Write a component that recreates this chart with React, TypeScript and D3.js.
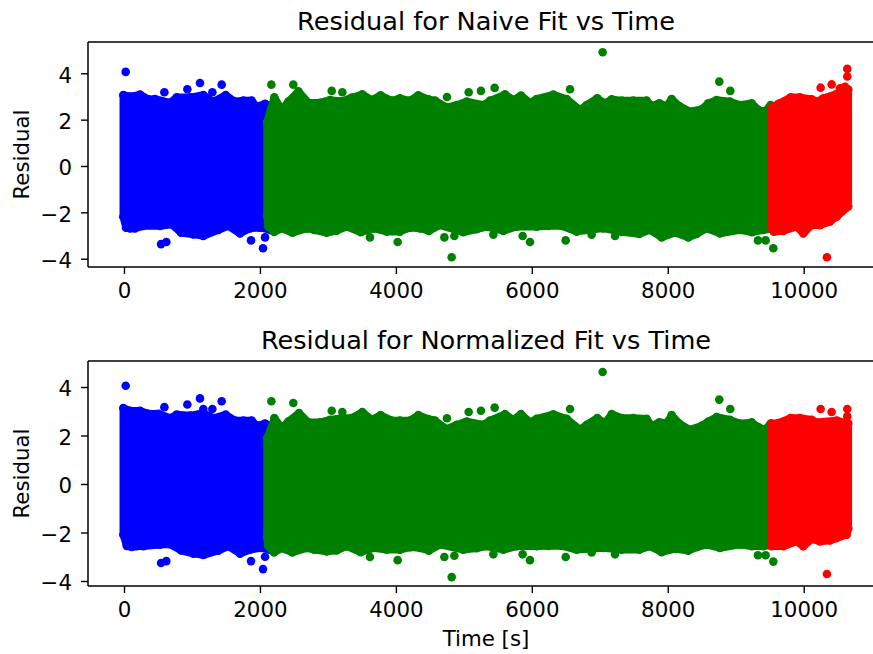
import React, { useEffect, useRef } from "react";
import * as d3 from "d3";

type P = [number, number];

// ---------- top panel (naive fit): edge of the dense cloud, then isolated points
const naiveBlueUpper: P[] = [[-10,3.06],[88,3.0],[236,3.08],[358,2.88],[456,2.89],[677,2.73],[775,2.96],[971,2.96],[1167,3.06],[1315,2.78],[1496,3.06],[1633,2.78],[1756,2.82],[1878,2.82],[1952,2.56],[2075,2.68],[2150,2.6]];
const naiveBlueLower: P[] = [[-10,-2.19],[30,-2.66],[88,-2.69],[162,-2.69],[285,-2.59],[530,-2.59],[702,-2.52],[839,-2.88],[1020,-2.95],[1167,-3.02],[1388,-2.76],[1535,-2.59],[1707,-2.91],[1854,-2.69],[2001,-2.66],[2150,-2.76]];
const naiveBlueOutliers: P[] = [[25,4.06],[594,3.18],[932,3.31],[1118,3.58],[1300,3.18],[1437,3.51],[545,-3.37],[623,-3.28],[1869,-3.21],[2075,-3.08],[2045,-3.55]];

const naiveGreenUpper: P[] = [[2105,1.9],[2158,2.42],[2212,2.96],[2320,2.42],[2418,2.78],[2565,3.22],[2712,2.73],[2884,2.73],[3032,2.85],[3203,2.79],[3350,2.95],[3506,3.09],[3644,2.85],[3776,3.05],[3938,2.82],[4060,2.92],[4208,2.82],[4330,3.05],[4477,2.88],[4575,2.82],[4747,2.53],[4894,2.63],[5041,2.78],[5287,2.63],[5385,2.82],[5605,3.09],[5728,2.85],[5841,3.04],[5973,2.73],[6071,2.89],[6316,3.08],[6513,2.89],[6709,2.42],[6807,2.63],[6964,2.92],[7076,2.71],[7175,2.88],[7322,2.82],[7493,2.82],[7689,2.82],[7763,2.59],[7876,2.71],[7984,2.59],[8057,2.89],[8170,2.59],[8327,2.35],[8498,2.45],[8597,2.71],[8719,2.85],[8915,2.78],[9062,2.63],[9234,2.71],[9332,2.42],[9430,2.35],[9514,2.63],[9600,2.5]];
const naiveGreenLower: P[] = [[2105,-2.15],[2124,-2.62],[2207,-2.85],[2320,-2.7],[2477,-2.88],[2688,-2.69],[2800,-2.76],[2982,-2.88],[3129,-2.79],[3276,-2.62],[3482,-2.86],[3668,-2.69],[3864,-2.83],[4060,-2.83],[4208,-2.66],[4355,-2.69],[4487,-2.8],[4649,-2.55],[4992,-2.86],[5188,-2.73],[5336,-2.62],[5581,-2.8],[5777,-2.62],[6071,-2.62],[6243,-2.59],[6439,-2.59],[6660,-2.83],[7052,-2.69],[7322,-2.85],[7581,-2.93],[7738,-2.76],[7910,-3.08],[8106,-2.88],[8302,-3.08],[8425,-2.93],[8572,-2.69],[8768,-2.91],[9062,-2.76],[9239,-2.86],[9406,-2.76],[9600,-2.7]];
const naiveGreenOutliers: P[] = [[2168,3.51],[2491,3.51],[3056,3.24],[3212,3.18],[4752,2.98],[5071,3.18],[5252,3.24],[5453,3.37],[6562,3.31],[7042,4.91],[8758,3.64],[8920,3.24],[3619,-3.08],[4026,-3.28],[4821,-3.94],[4713,-3.08],[4860,-3.02],[5434,-2.96],[5865,-3.02],[5973,-3.28],[6498,-3.21],[6880,-2.96],[7224,-3.02],[9327,-3.21],[9440,-3.21],[9553,-3.55]];

const naiveRedUpper: P[] = [[9525,2.5],[9626,2.68],[9808,2.96],[9945,2.96],[10117,2.88],[10190,2.78],[10288,2.92],[10485,3.11],[10607,3.42],[10656,3.3]];
const naiveRedLower: P[] = [[9525,-2.65],[9560,-2.83],[9700,-2.8],[9896,-2.62],[9994,-2.91],[10117,-2.55],[10239,-2.55],[10386,-2.4],[10485,-2.19],[10656,-1.75]];
const naiveRedOutliers: P[] = [[10249,3.38],[10411,3.52],[10641,4.19],[10641,3.86],[10534,3.35],[10342,-3.94]];

// ---------- bottom panel (normalized fit)
const normBlueUpper: P[] = [[-10,3.13],[88,3.02],[236,3.02],[358,2.9],[505,2.9],[677,2.72],[775,2.86],[971,2.82],[1167,2.93],[1315,2.72],[1496,2.86],[1633,2.62],[1756,2.62],[1878,2.62],[1952,2.4],[2075,2.49],[2150,2.4]];
const normBlueLower: P[] = [[-10,-2.09],[40,-2.55],[113,-2.6],[187,-2.57],[285,-2.57],[530,-2.5],[677,-2.48],[839,-2.74],[1020,-2.87],[1167,-2.93],[1388,-2.75],[1535,-2.57],[1707,-2.87],[1854,-2.71],[2001,-2.64],[2150,-2.71]];
const normBlueOutliers: P[] = [[25,4.05],[594,3.17],[932,3.28],[1118,3.53],[1300,3.09],[1437,3.41],[1167,3.09],[545,-3.26],[623,-3.18],[1869,-3.18],[2075,-3.0],[2045,-3.51]];

const normGreenUpper: P[] = [[2105,1.9],[2158,2.24],[2212,2.72],[2320,2.31],[2418,2.58],[2575,2.93],[2712,2.54],[2884,2.54],[3032,2.65],[3203,2.72],[3350,2.72],[3506,2.97],[3644,2.65],[3776,2.84],[3938,2.62],[4060,2.62],[4208,2.62],[4330,2.84],[4477,2.68],[4575,2.62],[4747,2.27],[4894,2.44],[5041,2.58],[5287,2.44],[5385,2.62],[5605,2.88],[5728,2.65],[5841,2.88],[5973,2.54],[6071,2.69],[6316,2.87],[6513,2.69],[6709,2.24],[6807,2.44],[6964,2.72],[7076,2.51],[7175,2.88],[7322,2.72],[7493,2.72],[7689,2.69],[7763,2.4],[7876,2.54],[7984,2.51],[8057,2.84],[8170,2.49],[8327,2.24],[8498,2.4],[8597,2.58],[8719,2.76],[8915,2.65],[9062,2.49],[9234,2.54],[9332,2.35],[9430,2.24],[9514,2.49],[9600,2.4]];
const normGreenLower: P[] = [[2105,-2.2],[2124,-2.57],[2207,-2.82],[2320,-2.65],[2477,-2.82],[2688,-2.64],[2800,-2.71],[2982,-2.78],[3129,-2.74],[3276,-2.57],[3482,-2.81],[3668,-2.64],[3864,-2.71],[4060,-2.71],[4208,-2.61],[4355,-2.64],[4487,-2.75],[4649,-2.5],[4992,-2.71],[5188,-2.65],[5336,-2.57],[5581,-2.71],[5777,-2.57],[6071,-2.57],[6243,-2.55],[6439,-2.55],[6660,-2.71],[7052,-2.64],[7322,-2.71],[7581,-2.71],[7738,-2.57],[7910,-2.81],[8106,-2.67],[8302,-2.75],[8425,-2.61],[8572,-2.5],[8768,-2.64],[9062,-2.5],[9239,-2.57],[9406,-2.57],[9600,-2.5]];
const normGreenOutliers: P[] = [[2168,3.41],[2491,3.34],[3056,3.02],[3212,2.97],[4752,2.71],[5071,2.97],[5252,3.02],[5453,3.15],[6562,3.09],[7042,4.62],[8758,3.48],[8920,3.09],[3619,-3.01],[4026,-3.14],[4821,-3.84],[4713,-3.01],[4860,-2.96],[5434,-2.9],[5865,-2.9],[5973,-3.14],[6498,-3.01],[6880,-2.82],[7224,-2.9],[9327,-2.94],[9440,-2.94],[9553,-3.2]];

const normRedUpper: P[] = [[9525,2.35],[9528,2.49],[9626,2.51],[9808,2.72],[9945,2.72],[10117,2.65],[10190,2.54],[10485,2.62],[10656,2.49]];
const normRedLower: P[] = [[9525,-2.5],[9528,-2.57],[9700,-2.57],[9896,-2.37],[9994,-2.57],[10117,-2.27],[10239,-2.37],[10386,-2.33],[10485,-2.23],[10632,-2.09],[10656,-1.82]];
const normRedOutliers: P[] = [[10249,3.09],[10411,2.97],[10641,3.09],[10641,2.79],[10342,-3.71]];

const xTicks = [0, 2000, 4000, 6000, 8000, 10000];
const yTicksTop = [-4, -2, 0, 2, 4];
const yTicksBottom = [-4, -2, 0, 2, 4];
const colors = ["#0000ff", "#008000", "#ff0000"];

const WIDTH = 873, HEIGHT = 654;
const AX_LEFT = 88, AX_RIGHT = 884;
const x = d3.scaleLinear().domain([0, 10000]).range([124, 803.7]);
const FONT = "'DejaVu Sans', sans-serif";
const TICK_FS = 21.33, TITLE_FS = 25.6;
const BAND_R = 3.8, DOT_R = 4.3;

type Seg = { upper: P[]; lower: P[]; outliers: P[]; color: string };

function Panel({ top, bottom, y, title, segs, yTicks, xLabel }: {
  top: number; bottom: number; y: d3.ScaleLinear<number, number>; title: string; segs: Seg[]; yTicks: number[]; xLabel?: string;
}) {
  const xRef = useRef<SVGGElement>(null);
  const yRef = useRef<SVGGElement>(null);
  useEffect(() => {
    const ax = d3.axisBottom(x).tickValues(xTicks).tickFormat(d3.format("d") as any).tickSizeOuter(0).tickSize(7).tickPadding(9);
    const ay = d3.axisLeft(y).tickValues(yTicks).tickFormat(d3.format("d") as any).tickSizeOuter(0).tickSize(7).tickPadding(9);
    for (const [ref, axis] of [[xRef, ax], [yRef, ay]] as any) {
      const g = d3.select(ref.current);
      g.call(axis);
      g.select(".domain").remove();
      g.selectAll("line").attr("stroke", "#000").attr("stroke-width", 1.4);
      g.selectAll("text").attr("fill", "#000").attr("font-family", FONT).attr("font-size", TICK_FS);
    }
    d3.select(yRef.current).selectAll("text").attr("dy", "0.42em");
  }, []);
  const band = (s: Seg) => {
    const path = d3.path();
    const line = d3.line<P>().x((d) => x(d[0])).y((d) => y(d[1])).context(path as any);
    line([...s.upper, ...[...s.lower].reverse()]);
    path.closePath();
    return path.toString();
  };
  return (
    <g>
      <defs>
        <clipPath id={`clip-${top}`}><rect x={AX_LEFT} y={top} width={AX_RIGHT - AX_LEFT} height={bottom - top} /></clipPath>
        <filter id={`soft-${top}`} x="-5%" y="-5%" width="110%" height="110%"><feGaussianBlur stdDeviation={0.45} /></filter>
      </defs>
      <g clipPath={`url(#clip-${top})`}>
        <g filter={`url(#soft-${top})`}>
          {segs.map((s) => (
            <g key={s.color} fill={s.color}>
              <path d={band(s)} stroke={s.color} strokeWidth={BAND_R * 2} strokeLinejoin="round" />
              {[...s.upper, ...s.lower, ...s.outliers].map((d, i) => <circle key={i} cx={x(d[0])} cy={y(d[1])} r={DOT_R} />)}
            </g>
          ))}
        </g>
      </g>
      <g ref={xRef} transform={`translate(0,${bottom})`} />
      <g ref={yRef} transform={`translate(${AX_LEFT},0)`} />
      <path d={`M${AX_LEFT},${top}H${AX_RIGHT}M${AX_LEFT},${bottom}H${AX_RIGHT}M${AX_LEFT},${top}V${bottom}`} fill="none" stroke="#000" strokeWidth={1.5} />
      <text x={486} y={top - 12.5} textAnchor="middle" fontFamily={FONT} fontSize={TITLE_FS}>{title}</text>
      <text transform={`translate(29,${(top + bottom) / 2}) rotate(-90)`} textAnchor="middle" fontFamily={FONT} fontSize={TICK_FS}>Residual</text>
      {xLabel && <text x={486} y={bottom + 60} textAnchor="middle" fontFamily={FONT} fontSize={TICK_FS}>{xLabel}</text>}
    </g>
  );
}

export default function App() {
  const yTop = d3.scaleLinear().domain([-4, 4]).range([258.7, 73.3]);
  const yBottom = d3.scaleLinear().domain([-4, 4]).range([581, 387]);
  return (
    <svg width={WIDTH} height={HEIGHT} style={{ position: "absolute", left: 0, top: 0, background: "#fff" }}>
      <Panel top={42} bottom={267} y={yTop} title="Residual for Naive Fit vs Time" yTicks={yTicksTop}
        segs={[
          { upper: naiveBlueUpper, lower: naiveBlueLower, outliers: naiveBlueOutliers, color: colors[0] },
          { upper: naiveGreenUpper, lower: naiveGreenLower, outliers: naiveGreenOutliers, color: colors[1] },
          { upper: naiveRedUpper, lower: naiveRedLower, outliers: naiveRedOutliers, color: colors[2] },
        ]} />
      <Panel top={361} bottom={586} y={yBottom} title="Residual for Normalized Fit vs Time" yTicks={yTicksBottom} xLabel="Time [s]"
        segs={[
          { upper: normBlueUpper, lower: normBlueLower, outliers: normBlueOutliers, color: colors[0] },
          { upper: normGreenUpper, lower: normGreenLower, outliers: normGreenOutliers, color: colors[1] },
          { upper: normRedUpper, lower: normRedLower, outliers: normRedOutliers, color: colors[2] },
        ]} />
    </svg>
  );
}
